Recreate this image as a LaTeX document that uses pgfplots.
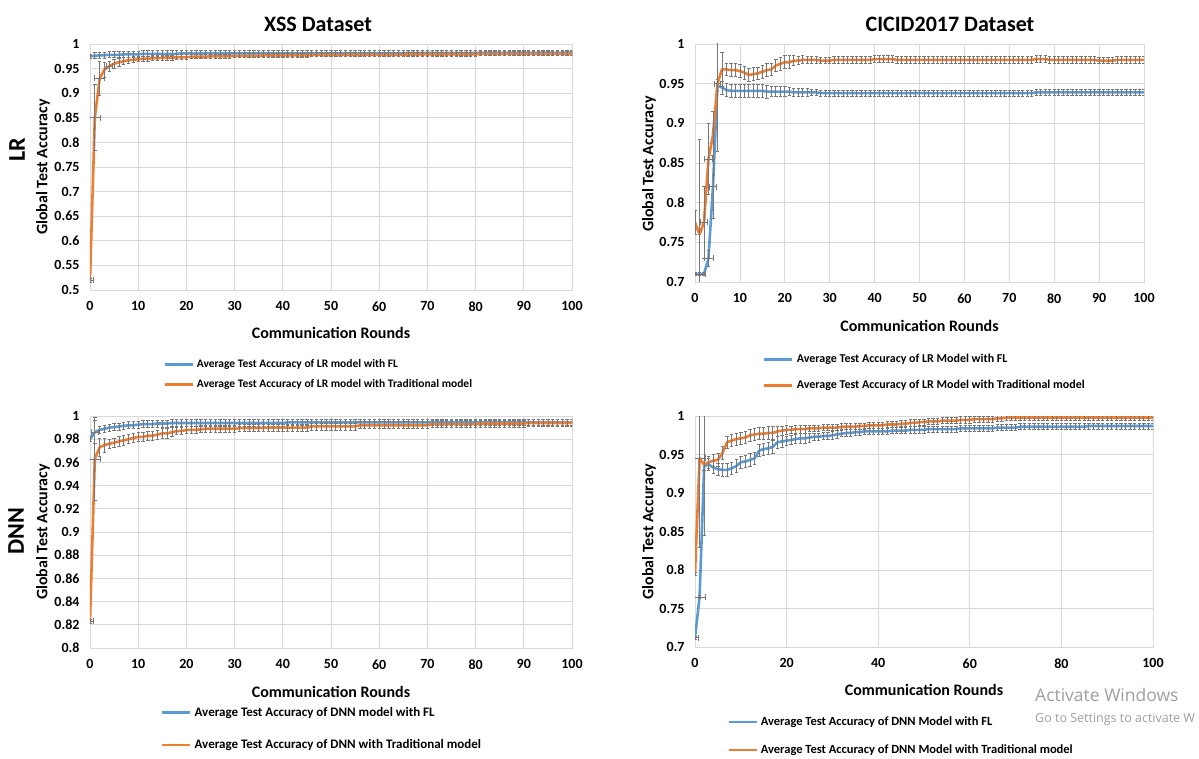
\documentclass[border=0pt]{standalone}
\usepackage{fontspec}
\setmainfont{Carlito}
\newfontfamily\winfont{Open Sans}
\usepackage{pgfplots}
\usepackage{pgfplotstable}
\pgfplotsset{compat=1.18}
\definecolor{flblue}{HTML}{5B9BD5}
\definecolor{trorange}{HTML}{ED7D31}
\definecolor{errgray}{HTML}{777777}
\definecolor{gridgray}{HTML}{D9D9D9}

% XSS LR
\pgfplotstableread[row sep=\\]{
x a ae b be\\
0 .975 .004 .520 .004\\ 1 .976 .006 .850 .067\\ 2 .977 .006 .930 .035\\ 3 .977 .006 .948 .015\\ 4 .978 .006 .955 .010\\
5 .978 .006 .960 .009\\ 6 .978 .006 .963 .008\\ 7 .979 .006 .965 .007\\ 8 .979 .006 .967 .006\\ 9 .979 .006 .968 .006\\
10 .979 .006 .969 .005\\ 11 .980 .006 .970 .005\\ 12 .980 .006 .970 .005\\ 13 .980 .006 .971 .005\\ 14 .980 .006 .971 .005\\
15 .980 .006 .972 .005\\ 16 .980 .006 .972 .005\\ 17 .980 .006 .972 .005\\ 18 .980 .006 .973 .005\\ 19 .981 .006 .973 .005\\
20 .981 .006 .973 .005\\ 21 .981 .006 .974 .004\\ 22 .981 .006 .974 .004\\ 23 .981 .006 .974 .004\\ 24 .981 .006 .974 .004\\
25 .981 .006 .975 .004\\ 26 .981 .006 .975 .004\\ 27 .981 .006 .975 .004\\ 28 .981 .006 .975 .004\\ 29 .981 .006 .975 .004\\
30 .981 .006 .976 .004\\ 31 .981 .006 .976 .004\\ 32 .981 .006 .976 .004\\ 33 .981 .006 .976 .004\\ 34 .981 .006 .976 .004\\
35 .981 .006 .976 .004\\ 36 .981 .006 .977 .004\\ 37 .981 .006 .977 .004\\ 38 .981 .006 .977 .004\\ 39 .981 .006 .977 .004\\
40 .981 .006 .977 .004\\ 41 .981 .006 .977 .004\\ 42 .981 .006 .977 .004\\ 43 .981 .006 .977 .004\\ 44 .981 .006 .977 .004\\
45 .981 .006 .977 .004\\ 46 .981 .006 .978 .004\\ 47 .981 .006 .978 .004\\ 48 .981 .006 .978 .004\\ 49 .981 .006 .978 .004\\
50 .981 .006 .978 .004\\ 51 .981 .006 .978 .004\\ 52 .981 .006 .978 .004\\ 53 .981 .006 .978 .004\\ 54 .981 .006 .978 .004\\
55 .981 .006 .978 .004\\ 56 .981 .006 .978 .004\\ 57 .981 .006 .978 .004\\ 58 .981 .006 .978 .004\\ 59 .981 .006 .978 .004\\
60 .981 .006 .978 .004\\ 61 .981 .006 .978 .004\\ 62 .981 .006 .978 .004\\ 63 .981 .006 .978 .004\\ 64 .981 .006 .978 .004\\
65 .981 .006 .978 .004\\ 66 .982 .006 .979 .004\\ 67 .982 .006 .979 .004\\ 68 .982 .006 .979 .004\\ 69 .982 .006 .979 .004\\
70 .982 .006 .979 .004\\ 71 .982 .006 .979 .004\\ 72 .982 .006 .979 .004\\ 73 .982 .006 .979 .004\\ 74 .982 .006 .979 .004\\
75 .982 .006 .979 .004\\ 76 .982 .006 .979 .004\\ 77 .982 .006 .979 .004\\ 78 .982 .006 .979 .004\\ 79 .982 .006 .979 .004\\
80 .982 .006 .979 .004\\ 81 .982 .006 .980 .004\\ 82 .982 .006 .980 .004\\ 83 .982 .006 .980 .004\\ 84 .982 .006 .980 .004\\
85 .982 .006 .980 .004\\ 86 .982 .006 .980 .004\\ 87 .982 .006 .980 .004\\ 88 .982 .006 .980 .004\\ 89 .982 .006 .980 .004\\
90 .982 .006 .980 .004\\ 91 .982 .006 .980 .004\\ 92 .982 .006 .980 .004\\ 93 .982 .006 .980 .004\\ 94 .982 .006 .980 .004\\
95 .982 .006 .980 .004\\ 96 .982 .006 .980 .004\\ 97 .982 .006 .980 .004\\ 98 .982 .006 .980 .004\\ 99 .982 .006 .980 .004\\
100 .982 .006 .980 .004\\
}\tA

% CICID LR
\pgfplotstableread[row sep=\\]{
x a ae b be\\
0 .710 .002 .775 .015\\ 1 .710 .002 .760 .120\\ 2 .710 .002 .775 .045\\ 3 .730 .010 .855 .045\\ 4 .820 .040 .885 .030\\
5 .948 .008 .950 .085\\ 6 .945 .008 .968 .022\\ 7 .942 .008 .968 .008\\ 8 .941 .008 .967 .008\\ 9 .941 .008 .967 .008\\
10 .941 .008 .966 .008\\ 11 .941 .008 .964 .008\\ 12 .941 .008 .961 .008\\ 13 .941 .008 .962 .008\\ 14 .941 .008 .963 .008\\
15 .941 .008 .965 .008\\ 16 .940 .008 .967 .008\\ 17 .940 .006 .968 .008\\ 18 .940 .006 .973 .008\\ 19 .940 .006 .975 .008\\
20 .940 .006 .977 .008\\ 21 .940 .005 .977 .008\\ 22 .939 .005 .979 .006\\ 23 .939 .005 .979 .005\\ 24 .939 .005 .980 .005\\
25 .939 .005 .980 .004\\ 26 .939 .004 .980 .004\\ 27 .939 .004 .980 .004\\ 28 .938 .004 .979 .004\\ 29 .938 .004 .979 .004\\
30 .938 .004 .979 .004\\ 31 .938 .004 .980 .004\\ 32 .938 .004 .980 .004\\ 33 .938 .004 .980 .004\\ 34 .938 .004 .980 .004\\
35 .938 .004 .980 .004\\ 36 .938 .004 .980 .004\\ 37 .938 .004 .980 .004\\ 38 .938 .004 .980 .004\\ 39 .938 .004 .980 .004\\
40 .938 .004 .981 .004\\ 41 .938 .004 .981 .004\\ 42 .938 .004 .981 .004\\ 43 .938 .004 .981 .004\\ 44 .938 .004 .981 .004\\
45 .938 .004 .980 .004\\ 46 .938 .004 .980 .004\\ 47 .938 .004 .980 .004\\ 48 .938 .004 .980 .004\\ 49 .938 .004 .980 .004\\
50 .938 .004 .980 .004\\ 51 .938 .004 .980 .004\\ 52 .938 .004 .980 .004\\ 53 .938 .004 .980 .004\\ 54 .938 .004 .980 .004\\
55 .938 .004 .980 .004\\ 56 .938 .004 .980 .004\\ 57 .938 .004 .980 .004\\ 58 .938 .004 .980 .004\\ 59 .938 .004 .980 .004\\
60 .938 .004 .980 .004\\ 61 .938 .004 .980 .004\\ 62 .938 .004 .980 .004\\ 63 .938 .004 .980 .004\\ 64 .938 .004 .980 .004\\
65 .938 .004 .980 .004\\ 66 .938 .004 .980 .004\\ 67 .938 .004 .980 .004\\ 68 .938 .004 .980 .004\\ 69 .938 .004 .980 .004\\
70 .938 .004 .980 .004\\ 71 .938 .004 .980 .004\\ 72 .938 .004 .980 .004\\ 73 .938 .004 .980 .004\\ 74 .938 .004 .980 .004\\
75 .938 .004 .980 .004\\ 76 .939 .004 .981 .004\\ 77 .939 .004 .981 .004\\ 78 .939 .004 .981 .004\\ 79 .939 .004 .980 .004\\
80 .939 .004 .980 .004\\ 81 .939 .004 .980 .004\\ 82 .939 .004 .980 .004\\ 83 .939 .004 .980 .004\\ 84 .939 .004 .980 .004\\
85 .939 .004 .980 .004\\ 86 .939 .004 .980 .004\\ 87 .939 .004 .980 .004\\ 88 .939 .004 .980 .004\\ 89 .939 .004 .980 .004\\
90 .939 .004 .979 .004\\ 91 .939 .004 .979 .004\\ 92 .939 .004 .979 .004\\ 93 .939 .004 .979 .004\\ 94 .939 .004 .980 .004\\
95 .939 .004 .980 .004\\ 96 .939 .004 .980 .004\\ 97 .939 .004 .980 .004\\ 98 .939 .004 .980 .004\\ 99 .939 .004 .980 .004\\
100 .939 .004 .980 .004\\
}\tB

% XSS DNN
\pgfplotstableread[row sep=\\]{
x a ae b be\\
0 .980 .002 .823 .002\\ 1 .986 .010 .963 .036\\ 2 .988 .003 .973 .008\\ 3 .989 .003 .975 .006\\ 4 .990 .003 .976 .004\\
5 .9905 .003 .977 .004\\ 6 .991 .003 .978 .004\\ 7 .9915 .003 .979 .004\\ 8 .992 .003 .980 .004\\ 9 .992 .003 .981 .004\\
10 .9925 .003 .982 .004\\ 11 .993 .003 .982 .004\\ 12 .993 .003 .983 .004\\ 13 .993 .003 .983 .004\\ 14 .9935 .003 .984 .004\\
15 .9935 .003 .985 .004\\ 16 .9935 .003 .985 .004\\ 17 .994 .003 .986 .004\\ 18 .994 .003 .987 .003\\ 19 .994 .003 .987 .003\\
20 .994 .003 .988 .003\\ 21 .994 .003 .988 .003\\ 22 .994 .003 .988 .003\\ 23 .994 .003 .9885 .003\\ 24 .994 .003 .989 .003\\
25 .994 .003 .989 .003\\ 26 .994 .003 .989 .003\\ 27 .994 .003 .989 .003\\ 28 .994 .003 .989 .003\\ 29 .994 .003 .989 .003\\
30 .994 .003 .989 .003\\ 31 .994 .003 .9895 .003\\ 32 .994 .003 .9895 .003\\ 33 .994 .003 .9895 .003\\ 34 .994 .003 .9895 .003\\
35 .994 .003 .9895 .003\\ 36 .994 .003 .990 .003\\ 37 .994 .003 .990 .003\\ 38 .994 .003 .990 .003\\ 39 .994 .003 .990 .003\\
40 .994 .003 .990 .003\\ 41 .9945 .003 .990 .003\\ 42 .9945 .003 .990 .003\\ 43 .9945 .003 .990 .003\\ 44 .9945 .003 .990 .003\\
45 .9945 .003 .990 .003\\ 46 .9945 .003 .991 .003\\ 47 .9945 .003 .991 .003\\ 48 .9945 .003 .991 .003\\ 49 .9945 .003 .991 .003\\
50 .9945 .003 .991 .003\\ 51 .9945 .003 .991 .003\\ 52 .9945 .003 .991 .003\\ 53 .9945 .003 .991 .003\\ 54 .9945 .003 .991 .003\\
55 .9945 .003 .991 .003\\ 56 .9945 .003 .992 .003\\ 57 .9945 .003 .992 .003\\ 58 .9945 .003 .992 .003\\ 59 .9945 .003 .992 .003\\
60 .9945 .003 .992 .003\\ 61 .9945 .003 .992 .003\\ 62 .9945 .003 .992 .003\\ 63 .9945 .003 .992 .003\\ 64 .9945 .003 .992 .003\\
65 .9945 .003 .992 .003\\ 66 .9945 .003 .992 .003\\ 67 .9945 .003 .992 .003\\ 68 .9945 .003 .992 .003\\ 69 .9945 .003 .992 .003\\
70 .9945 .003 .992 .003\\ 71 .9945 .003 .993 .003\\ 72 .9945 .003 .993 .003\\ 73 .9945 .003 .993 .003\\ 74 .9945 .003 .993 .003\\
75 .9945 .003 .993 .003\\ 76 .9945 .003 .993 .003\\ 77 .9945 .003 .993 .003\\ 78 .9945 .003 .993 .003\\ 79 .9945 .003 .993 .003\\
80 .9945 .003 .993 .003\\ 81 .9945 .003 .9935 .003\\ 82 .9945 .003 .9935 .003\\ 83 .9945 .003 .9935 .003\\ 84 .9945 .003 .9935 .003\\
85 .9945 .003 .9935 .003\\ 86 .9945 .003 .9935 .003\\ 87 .9945 .003 .9935 .003\\ 88 .9945 .003 .9935 .003\\ 89 .9945 .003 .9935 .003\\
90 .9945 .003 .9935 .003\\ 91 .9945 .003 .994 .003\\ 92 .9945 .003 .994 .003\\ 93 .9945 .003 .994 .003\\ 94 .9945 .003 .994 .003\\
95 .9945 .003 .994 .003\\ 96 .9945 .003 .994 .003\\ 97 .9945 .003 .994 .003\\ 98 .9945 .003 .994 .003\\ 99 .9945 .003 .994 .003\\
100 .9945 .003 .994 .003\\
}\tC

% CICID DNN
\pgfplotstableread[row sep=\\]{
x a ae b be\\
0 .712 .002 .795 .002\\ 1 .765 .002 .945 .115\\ 2 .935 .090 .937 .008\\ 3 .937 .008 .940 .008\\ 4 .933 .008 .942 .008\\
5 .931 .008 .943 .008\\ 6 .930 .008 .952 .008\\ 7 .930 .008 .966 .008\\ 8 .932 .008 .968 .008\\ 9 .935 .008 .970 .008\\
10 .940 .008 .971 .008\\ 11 .941 .008 .972 .008\\ 12 .943 .008 .975 .008\\ 13 .945 .008 .976 .008\\ 14 .955 .008 .977 .008\\
15 .957 .008 .977 .008\\ 16 .958 .008 .978 .008\\ 17 .960 .008 .978 .008\\ 18 .966 .008 .980 .006\\ 19 .967 .008 .981 .006\\
20 .968 .006 .982 .006\\ 21 .969 .006 .982 .005\\ 22 .970 .006 .983 .005\\ 23 .971 .006 .983 .005\\ 24 .971 .006 .983 .005\\
25 .972 .006 .984 .004\\ 26 .973 .005 .984 .004\\ 27 .973 .005 .984 .004\\ 28 .974 .005 .985 .004\\ 29 .974 .005 .985 .004\\
30 .975 .005 .985 .004\\ 31 .976 .005 .985 .004\\ 32 .977 .004 .986 .004\\ 33 .978 .004 .986 .004\\ 34 .978 .004 .986 .004\\
35 .979 .004 .986 .004\\ 36 .979 .004 .987 .004\\ 37 .980 .004 .987 .004\\ 38 .980 .004 .988 .004\\ 39 .980 .004 .988 .004\\
40 .980 .004 .988 .004\\ 41 .980 .004 .988 .004\\ 42 .980 .004 .989 .004\\ 43 .981 .004 .989 .004\\ 44 .981 .004 .989 .004\\
45 .981 .004 .990 .004\\ 46 .981 .004 .990 .004\\ 47 .982 .004 .991 .004\\ 48 .982 .004 .991 .004\\ 49 .982 .004 .992 .004\\
50 .982 .004 .992 .004\\ 51 .983 .004 .993 .004\\ 52 .983 .004 .993 .004\\ 53 .983 .004 .993 .004\\ 54 .983 .004 .994 .004\\
55 .983 .004 .994 .004\\ 56 .983 .004 .994 .004\\ 57 .983 .004 .994 .004\\ 58 .984 .004 .995 .004\\ 59 .984 .004 .995 .004\\
60 .984 .004 .995 .004\\ 61 .984 .004 .996 .004\\ 62 .984 .004 .996 .004\\ 63 .984 .004 .996 .004\\ 64 .984 .004 .996 .004\\
65 .984 .004 .996 .004\\ 66 .985 .004 .997 .004\\ 67 .985 .004 .997 .004\\ 68 .985 .004 .998 .004\\ 69 .985 .004 .998 .004\\
70 .985 .004 .998 .004\\ 71 .986 .004 .998 .004\\ 72 .986 .004 .998 .004\\ 73 .986 .004 .998 .004\\ 74 .986 .004 .998 .004\\
75 .986 .004 .998 .004\\ 76 .986 .004 .998 .004\\ 77 .986 .004 .998 .004\\ 78 .986 .004 .998 .004\\ 79 .986 .004 .998 .004\\
80 .986 .004 .998 .004\\ 81 .986 .004 .998 .004\\ 82 .986 .004 .998 .004\\ 83 .986 .004 .998 .004\\ 84 .986 .004 .998 .004\\
85 .986 .004 .998 .004\\ 86 .987 .004 .998 .004\\ 87 .987 .004 .998 .004\\ 88 .987 .004 .998 .004\\ 89 .987 .004 .998 .004\\
90 .987 .004 .998 .004\\ 91 .987 .004 .998 .004\\ 92 .987 .004 .998 .004\\ 93 .987 .004 .998 .004\\ 94 .987 .004 .998 .004\\
95 .987 .004 .998 .004\\ 96 .987 .004 .998 .004\\ 97 .987 .004 .998 .004\\ 98 .987 .004 .998 .004\\ 99 .987 .004 .998 .004\\
100 .987 .004 .998 .004\\
}\tD

\newcommand{\fs}[1]{\fontsize{#1}{#1}\selectfont\bfseries}

\pgfplotsset{
 panel/.style={
  scale only axis, anchor=south west,
  axis line style={draw=gridgray, line width=0.8pt},
  grid=major, major grid style={draw=gridgray, line width=0.8pt},
  tick style={draw=none},
  xmin=0, xmax=100,
  tick label style={font=\fs{14}},
  /pgf/number format/assume math mode=true,
  yticklabel style={/pgf/number format/fixed, /pgf/number format/precision=2, xshift=-7pt},
  xticklabel style={yshift=-8pt},
  label style={font=\fs{16}},
  xlabel={Communication Rounds}, ylabel={Global Test Accuracy},
  legend style={draw=none, fill=none, font=\fs{12}, anchor=north west, inner sep=0pt,
    nodes={inner sep=1pt}, column sep=2pt, cells={anchor=west}},
  legend image code/.code={\draw[##1] (0pt,0pt) -- (28pt,0pt);},
  clip=true,
 },
 yeb/.style={error bars/y dir=both, error bars/y explicit,
   error bars/error bar style={draw=errgray, line width=0.8pt},
   error bars/error mark options={rotate=90, draw=errgray, line width=0.8pt, mark size=1.7pt}},
 xeb/.style={draw=none, mark=none, forget plot, error bars/x dir=both, error bars/x explicit,
   error bars/error bar style={draw=errgray, line width=0.8pt},
   error bars/error mark options={rotate=90, draw=errgray, line width=0.8pt, mark size=3pt}},
 fl/.style={flblue, line width=2.6pt, line join=round, mark=none, yeb},
 tr/.style={trorange, line width=2.6pt, line join=round, mark=none, yeb},
}

\begin{document}
\begin{tikzpicture}[x=1pt,y=1pt]
\useasboundingbox (0pt,0pt) rectangle (1199pt,758pt);

% ---------- XSS LR
\begin{axis}[panel, at={(90pt,468pt)}, width=482pt, height=246pt,
  ymin=0.5, ymax=1, xtick={0,10,20,30,40,50,60,70,80,90,100},
  ytick={0.5,0.55,0.6,0.65,0.7,0.75,0.8,0.85,0.9,0.95,1},
  xlabel style={at={(axis description cs:0.5,-0.1748)}, anchor=center},
  ylabel style={at={(axis description cs:-0.0975,0.5)}, anchor=center},
  legend style={at={(0.1515,-0.278)}, row sep=8.5pt, font=\fs{11.5}}]
\addplot[fl] table[x=x, y=a, y error=ae] {\tA};
\addlegendentry{Average Test Accuracy of LR model with FL}
\addplot[tr] table[x=x, y=b, y error=be] {\tA};
\addlegendentry{Average Test Accuracy of LR model with Traditional model}
\addplot[xeb] table[x=x, y=y, x error=e, row sep=\\] {x y e\\ 0 .520 .8\\ 1 .850 1.2\\ 2 .930 1.0\\ 4 .955 .6\\};
\end{axis}

% ---------- CICID LR
\begin{axis}[panel, at={(695pt,476pt)}, width=449pt, height=238pt,
  ymin=0.7, ymax=1, xtick={0,10,20,30,40,50,60,70,80,90,100},
  ytick={0.7,0.75,0.8,0.85,0.9,0.95,1},
  xlabel style={at={(axis description cs:0.5,-0.185)}, anchor=center},
  ylabel style={at={(axis description cs:-0.1024,0.496)}, anchor=center},
  legend style={at={(0.1514,-0.2996)}, row sep=14pt}]
\addplot[fl] table[x=x, y=a, y error=ae] {\tB};
\addlegendentry{Average Test Accuracy of LR Model with FL}
\addplot[tr] table[x=x, y=b, y error=be] {\tB};
\addlegendentry{Average Test Accuracy of LR Model with Traditional model}
\addplot[xeb] table[x=x, y=y, x error=e, row sep=\\] {x y e\\ 1 .710 1.3\\ 3 .730 1.0\\ 4 .820 .8\\ 2 .775 .7\\ 3 .855 .8\\ 5 .950 .6\\};
\end{axis}

% ---------- XSS DNN
\begin{axis}[panel, at={(90pt,110pt)}, width=482pt, height=232pt,
  ymin=0.8, ymax=1, xtick={0,10,20,30,40,50,60,70,80,90,100},
  ytick={0.8,0.82,0.84,0.86,0.88,0.9,0.92,0.94,0.96,0.98,1},
  xlabel style={at={(axis description cs:0.5,-0.19)}, anchor=center},
  ylabel style={at={(axis description cs:-0.0975,0.5)}, anchor=center},
  legend style={at={(0.147,-0.249)}, row sep=20pt, font=\fs{13}}]
\addplot[fl] table[x=x, y=a, y error=ae] {\tC};
\addlegendentry{Average Test Accuracy of DNN model with FL}
\addplot[tr] table[x=x, y=b, y error=be] {\tC};
\addlegendentry{Average Test Accuracy of DNN with Traditional model}
\addplot[xeb] table[x=x, y=y, x error=e, row sep=\\] {x y e\\ 0 .823 .8\\ 1 .963 1.2\\ 1 .986 .8\\};
\end{axis}

% ---------- CICID DNN
\begin{axis}[panel, at={(695pt,111pt)}, width=458pt, height=231pt,
  ymin=0.7, ymax=1, xtick={0,20,40,60,80,100},
  ytick={0.7,0.75,0.8,0.85,0.9,0.95,1},
  xlabel style={at={(axis description cs:0.5,-0.186)}, anchor=center},
  ylabel style={at={(axis description cs:-0.1004,0.5)}, anchor=center},
  legend style={at={(0.0699,-0.298)}, row sep=15.5pt, font=\fs{12.5}}]
\addplot[fl] table[x=x, y=a, y error=ae] {\tD};
\addlegendentry{Average Test Accuracy of DNN Model with FL}
\addplot[tr] table[x=x, y=b, y error=be] {\tD};
\addlegendentry{Average Test Accuracy of DNN Model with Traditional model}
\addplot[xeb] table[x=x, y=y, x error=e, row sep=\\] {x y e\\ 0 .712 .8\\ 1 .765 1.2\\ 1 .945 1.2\\};
\end{axis}

\node[font=\fs{22}] at (318pt,734pt) {XSS Dataset};
\node[font=\fs{22}] at (950pt,734pt) {CICID2017 Dataset};
\node[font=\fs{24}, rotate=90] at (17pt,608pt) {LR};
\node[font=\fs{24}, rotate=90] at (16pt,227pt) {DNN};
\node[font=\winfont\fontsize{17.5}{17.5}\selectfont, text=black!38, anchor=west, inner sep=0pt] at (1035pt,63pt) {Activate Windows};
\node[font=\winfont\fontsize{12.5}{12.5}\selectfont, text=black!38, anchor=west, inner sep=0pt] at (1035pt,39pt) {Go to Settings to activate W};
\end{tikzpicture}
\end{document}
